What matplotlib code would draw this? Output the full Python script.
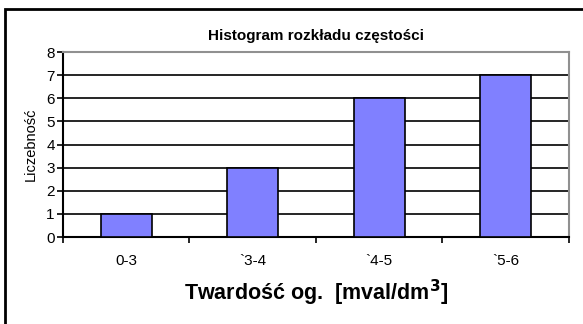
import numpy as np
import matplotlib.pyplot as plt
from matplotlib.patches import Rectangle

plt.rcParams['font.family'] = ['Liberation Sans', 'DejaVu Sans']

classes = ['0-3', '`3-4', '`4-5', '`5-6']
counts = [1, 3, 6, 7]
yticks = list(range(0, 9))

fig = plt.figure(figsize=(5.83, 3.24), dpi=100)
ax = fig.add_axes([0.108, 0.2685, 0.868, 0.571])

x = np.arange(len(classes))
ax.bar(x, counts, 0.4, color='#8080ff', edgecolor='black', linewidth=1.2, zorder=3)

ax.set_xlim(-0.5, len(classes) - 0.5)
ax.set_ylim(0, 8)
ax.set_yticks(yticks)
ax.yaxis.grid(True, color='black', linewidth=1.2, zorder=0)

ax.set_xticks(x)
ax.set_xticklabels(classes, fontsize=11)
ax.tick_params(axis='x', which='major', length=0, pad=12)
ax.set_xticks(np.arange(-0.5, len(classes)), minor=True)
ax.tick_params(axis='x', which='minor', length=4, width=1.2, direction='out')
ax.tick_params(axis='y', length=4, width=1.2, labelsize=11, pad=2)

for side in ['left', 'bottom']:
    ax.spines[side].set_linewidth(1.5)
for side in ['top', 'right']:
    ax.spines[side].set_color('#909090')
    ax.spines[side].set_linewidth(1.5)

ax.set_title('Histogram rozkładu częstości', fontsize=11, fontweight='bold', pad=9)
ax.set_ylabel('Liczebność', fontsize=10.5, labelpad=6)
ax.set_xlabel('Twardość og.  [mval/dm$^{\\mathbf{3}}$]', fontsize=15.5,
              fontweight='bold', labelpad=7)

# chart frame around everything
fig.patches.append(Rectangle((5 / 583, -0.1), 1.2, 1.1 - 9 / 324, transform=fig.transFigure,
                             fill=False, edgecolor='black', linewidth=2, clip_on=False))

fig.savefig('out.png', dpi=100)
